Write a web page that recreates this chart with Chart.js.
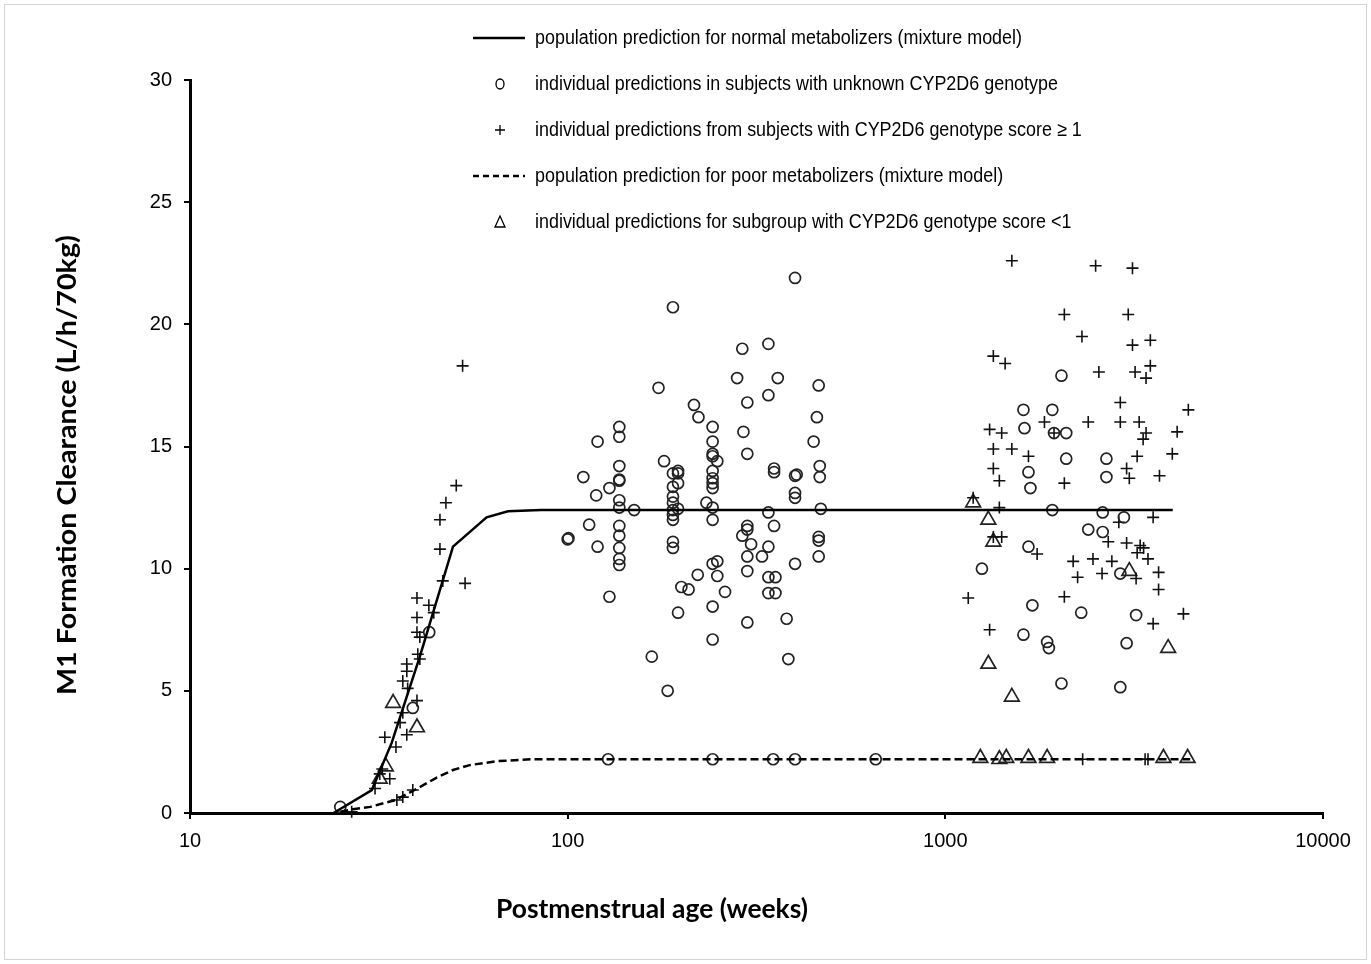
<!DOCTYPE html>
<html>
<head>
<meta charset="utf-8">
<script src="https://cdn.jsdelivr.net/npm/chart.js@4.4.0/dist/chart.umd.min.js"></script>
<style>
  body { margin: 0; background: #fff; }
  #wrap { width: 1371px; height: 964px; }
</style>
</head>
<body>
<div id="wrap"><canvas id="grafico" width="1371" height="964"></canvas></div>
<script>
// axis ticks
const xTicks = [10, 100, 1000, 10000];
const yTicks = [0, 5, 10, 15, 20, 25, 30];

const legendLabels = [
    'population prediction for normal metabolizers (mixture model)',
    'individual predictions in subjects with unknown CYP2D6 genotype',
    'individual predictions from subjects with CYP2D6 genotype score \u2265 1',
    'population prediction for poor metabolizers (mixture model)',
    'individual predictions for subgroup with CYP2D6 genotype score <1'
];

// population curves (age in weeks, clearance)
const normalAge = [24, 30.3, 34.2, 40.6, 49.7, 61, 69.5, 85, 100, 300, 1000, 4000];
const normalCL = [0, 0.94, 2.87, 6.4, 10.9, 12.1, 12.35, 12.4, 12.4, 12.4, 12.4, 12.4];
const poorAge = [25, 27, 30, 35, 40.6, 45, 49.7, 55, 65, 80, 4450];
const poorCL = [0.05, 0.15, 0.25, 0.53, 1.06, 1.45, 1.76, 1.96, 2.12, 2.2, 2.2];

// individual predictions, unknown genotype (circles)
const unknownPts = [
    [43, 7.4], [38.9, 4.3], [25, 0.25],
    [400, 21.9], [190, 20.7], [290, 19.0], [340, 19.2], [281, 17.8], [360, 17.8], [462, 17.5],
    [174, 17.4], [299, 16.8], [340, 17.1], [216, 16.7], [222, 16.2], [457, 16.2], [242, 15.8],
    [292, 15.6], [137, 15.8], [137, 15.4], [120, 15.2], [242, 15.2], [448, 15.2], [299, 14.7],
    [242, 14.7], [242, 14.6], [180, 14.4], [249, 14.4], [137, 14.2], [465, 14.2], [190, 13.9],
    [196, 13.9], [196, 14.0], [352, 14.1], [352, 13.95], [400, 13.8], [404, 13.85], [242, 14.0],
    [242, 13.7], [242, 13.5], [242, 13.3], [110, 13.75], [137, 13.6], [137, 13.65], [196, 13.5],
    [465, 13.75], [129, 13.3], [190, 13.35], [119, 13.0], [190, 12.95], [400, 13.1], [400, 12.9],
    [137, 12.8], [190, 12.7], [190, 12.4], [190, 12.2], [190, 12.0], [233, 12.7], [137, 12.5],
    [150, 12.4], [196, 12.45], [242, 12.5], [340, 12.3], [468, 12.45], [242, 12.0], [114, 11.8],
    [137, 11.75], [352, 11.75], [299, 11.75], [299, 11.6], [290, 11.35], [137, 11.35], [100.5, 11.25],
    [100, 11.2], [462, 11.3], [462, 11.15], [306, 11.0], [340, 10.9], [120, 10.9], [190, 11.1],
    [190, 10.85], [137, 10.85], [299, 10.5], [327, 10.5], [137, 10.4], [137, 10.15], [462, 10.5],
    [242, 10.2], [249, 10.3], [400, 10.2], [299, 9.9], [221, 9.75], [249, 9.7], [340, 9.65],
    [355, 9.65], [200, 9.25], [209, 9.15], [261, 9.05], [340, 9.0], [355, 9.0], [129, 8.85],
    [242, 8.45], [196, 8.2], [380, 7.95], [299, 7.8], [242, 7.1], [384, 6.3], [167, 6.4], [184, 5.0],
    [128, 2.2], [242, 2.2], [350, 2.2], [400, 2.2], [654, 2.2],
    [2030, 17.9], [1610, 16.5], [1920, 16.5], [1620, 15.75], [1940, 15.55], [2090, 15.55],
    [2090, 14.5], [1660, 13.95], [1680, 13.3], [1920, 12.4], [1660, 10.9], [1250, 10.0],
    [1700, 8.5], [1610, 7.3], [1860, 7.0], [1880, 6.75], [2030, 5.3], [2670, 14.5], [2670, 13.75],
    [2610, 12.3], [2970, 12.1], [2390, 11.6], [2610, 11.5], [2906, 9.8], [2290, 8.2], [3200, 8.1],
    [3020, 6.95], [2906, 5.15]
];

// individual predictions, genotype score >= 1 (plus)
const scoreHighPts = [
    [52.7, 18.3], [50.7, 13.4], [47.6, 12.7], [45.9, 12.0], [45.9, 10.8], [46.7, 9.5], [53.5, 9.4],
    [39.9, 8.8], [42.9, 8.5], [44.2, 8.2], [39.9, 8.0], [39.9, 7.4], [40.6, 7.2], [40.1, 6.5],
    [40.6, 6.3], [37.5, 6.1], [37.5, 5.8], [36.6, 5.4], [37.7, 5.1], [39.9, 4.6], [36.6, 4.1],
    [36.0, 3.7], [37.5, 3.2], [32.8, 3.1], [35.1, 2.7], [32.3, 1.8], [31.8, 1.6], [33.8, 1.4],
    [30.9, 1.0], [35.3, 0.53], [36.6, 0.65], [38.9, 0.94], [26.8, 0.05],
    [1500, 22.6], [2066, 20.4], [1340, 18.7], [1440, 18.4], [1830, 16.0], [1310, 15.7], [1410, 15.55],
    [1940, 15.55], [1340, 14.9], [1500, 14.9], [1660, 14.6], [1340, 14.1], [1390, 13.6], [2066, 13.5],
    [1185, 12.9], [1390, 12.5], [1340, 11.3], [1410, 11.3], [1750, 10.6], [1150, 8.8], [2066, 8.85],
    [1310, 7.5],
    [2500, 22.4], [3130, 22.3], [3050, 20.4], [2300, 19.5], [3130, 19.15], [3490, 19.35], [2550, 18.05],
    [3180, 18.05], [3490, 18.3], [3400, 17.8], [2906, 16.8], [4400, 16.5], [2390, 16.0], [2906, 16.0],
    [3260, 16.0], [3400, 15.55], [3340, 15.3], [4110, 15.6], [3220, 14.6], [3020, 14.1], [3990, 14.7],
    [3070, 13.7], [3690, 13.8], [2880, 11.9], [3550, 12.1], [2700, 11.1], [3020, 11.05], [3280, 10.95],
    [3350, 10.85], [3220, 10.65], [3440, 10.4], [2180, 10.3], [2460, 10.4], [2760, 10.3], [2240, 9.65],
    [2600, 9.8], [3200, 9.6], [3670, 9.85], [3670, 9.15], [4270, 8.15], [3550, 7.75],
    [2310, 2.2], [3380, 2.2], [3440, 2.2]
];

// individual predictions, genotype score < 1 (triangles)
const scoreLowPts = [
    [34.5, 4.5], [39.9, 3.5], [33.0, 1.9], [31.8, 1.4],
    [1185, 12.7], [1300, 12.0], [1340, 11.1], [1300, 6.1], [1500, 4.75], [3070, 9.9], [3890, 6.75],
    [1238, 2.25], [1390, 2.2], [1450, 2.25], [1660, 2.25], [1860, 2.25], [3780, 2.25], [4380, 2.25]
];

function toXY(pts) {
    return pts.map(p => ({ x: p[0], y: p[1] }));
}

function zipXY(xs, ys) {
    return xs.map((x, i) => ({ x: x, y: ys[i] }));
}

function fitText(ctx, text, x, y, width) {
    const sx = width / ctx.measureText(text).width;
    ctx.save();
    ctx.translate(x, y);
    ctx.scale(sx, 1);
    ctx.fillText(text, 0, 0);
    ctx.restore();
}

function drawSymbol(ctx, i, x, y) {
    ctx.save();
    ctx.strokeStyle = '#000';
    if (i === 0 || i === 3) {
        ctx.lineWidth = 2.5;
        ctx.setLineDash(i === 3 ? [6, 4] : []);
        ctx.beginPath();
        ctx.moveTo(473, y);
        ctx.lineTo(525, y);
        ctx.stroke();
    } else if (i === 1) {
        ctx.lineWidth = 1.3;
        ctx.beginPath();
        ctx.ellipse(x, y, 4, 5, 0, 0, Math.PI * 2);
        ctx.stroke();
    } else if (i === 2) {
        ctx.lineWidth = 1.3;
        ctx.beginPath();
        ctx.moveTo(x - 5, y); ctx.lineTo(x + 5, y);
        ctx.moveTo(x, y - 5); ctx.lineTo(x, y + 5);
        ctx.stroke();
    } else {
        ctx.lineWidth = 1.3;
        ctx.beginPath();
        ctx.moveTo(x, y - 6);
        ctx.lineTo(x + 5, y + 5);
        ctx.lineTo(x - 5, y + 5);
        ctx.closePath();
        ctx.stroke();
    }
    ctx.restore();
}

const extras = {
    id: 'extras',
    afterDraw(chart) {
        const ctx = chart.ctx;
        ctx.save();
        ctx.strokeStyle = '#d4d4d4';
        ctx.lineWidth = 1;
        ctx.strokeRect(4.5, 4.5, 1362, 955);

        // legend
        ctx.fillStyle = '#000';
        ctx.textBaseline = 'middle';
        ctx.textAlign = 'left';
        ctx.font = '20px "Liberation Sans Narrow", "Liberation Sans", Arial, sans-serif';
        const sx = 487 / ctx.measureText(legendLabels[0]).width;
        legendLabels.forEach((txt, i) => {
            const y = 38 + i * 46;
            ctx.save();
            ctx.translate(535, y);
            ctx.scale(sx, 1);
            ctx.fillText(txt, 0, 0);
            ctx.restore();
            drawSymbol(ctx, i, 500, y);
        });

        // axis titles
        ctx.font = 'bold 26px Lato, "Open Sans", sans-serif';
        ctx.textAlign = 'center';
        fitText(ctx, 'Postmenstrual age (weeks)', 652, 910, 312);
        ctx.save();
        ctx.translate(68, 465);
        ctx.rotate(-Math.PI / 2);
        fitText(ctx, 'M1 Formation Clearance (L/h/70kg)', 0, 0, 460);
        ctx.restore();
        ctx.restore();
    }
};

const tickFont = { family: '"Liberation Sans", Arial, sans-serif', size: 20 };

new Chart(document.getElementById('grafico'), {
    type: 'scatter',
    data: {
        datasets: [
            {
                label: legendLabels[0],
                data: zipXY(normalAge, normalCL),
                showLine: true,
                borderColor: '#000',
                borderWidth: 2.5,
                pointRadius: 0,
                tension: 0,
                clip: false
            },
            {
                label: legendLabels[3],
                data: zipXY(poorAge, poorCL),
                showLine: true,
                borderColor: '#000',
                borderWidth: 2.5,
                borderDash: [8, 4],
                pointRadius: 0,
                tension: 0,
                clip: false
            },
            {
                label: legendLabels[1],
                data: toXY(unknownPts),
                pointStyle: 'circle',
                pointRadius: 5.5,
                borderColor: '#222',
                backgroundColor: 'rgba(0,0,0,0)',
                borderWidth: 1.7,
                clip: false
            },
            {
                label: legendLabels[2],
                data: toXY(scoreHighPts),
                pointStyle: 'cross',
                pointRadius: 6,
                borderColor: '#111',
                borderWidth: 1.6,
                clip: false
            },
            {
                label: legendLabels[4],
                data: toXY(scoreLowPts),
                pointStyle: 'triangle',
                pointRadius: 8.5,
                borderColor: '#222',
                backgroundColor: 'rgba(0,0,0,0)',
                borderWidth: 1.7,
                clip: false
            }
        ]
    },
    options: {
        responsive: false,
        animation: false,
        events: [],
        layout: { padding: { left: 0, right: 48, top: 80, bottom: 0 } },
        plugins: {
            legend: { display: false },
            tooltip: { enabled: false }
        },
        scales: {
            x: {
                type: 'logarithmic',
                min: 10,
                max: 10000,
                afterBuildTicks: scale => { scale.ticks = xTicks.map(v => ({ value: v })); },
                afterFit: scale => { scale.height = 151; },
                border: { display: true, color: '#000', width: 3 },
                grid: { drawOnChartArea: false, drawTicks: true, tickLength: 6, color: '#000', lineWidth: 2 },
                ticks: {
                    autoSkip: false,
                    maxRotation: 0,
                    padding: 10,
                    color: '#000',
                    font: tickFont,
                    callback: v => String(v)
                }
            },
            y: {
                min: 0,
                max: 30,
                afterBuildTicks: scale => { scale.ticks = yTicks.map(v => ({ value: v })); },
                afterFit: scale => { scale.width = 190; },
                border: { display: true, color: '#000', width: 3 },
                grid: { drawOnChartArea: false, drawTicks: true, tickLength: 6, color: '#000', lineWidth: 2 },
                ticks: {
                    padding: 12,
                    color: '#000',
                    font: tickFont
                }
            }
        }
    },
    plugins: [extras]
});
</script>
</body>
</html>
